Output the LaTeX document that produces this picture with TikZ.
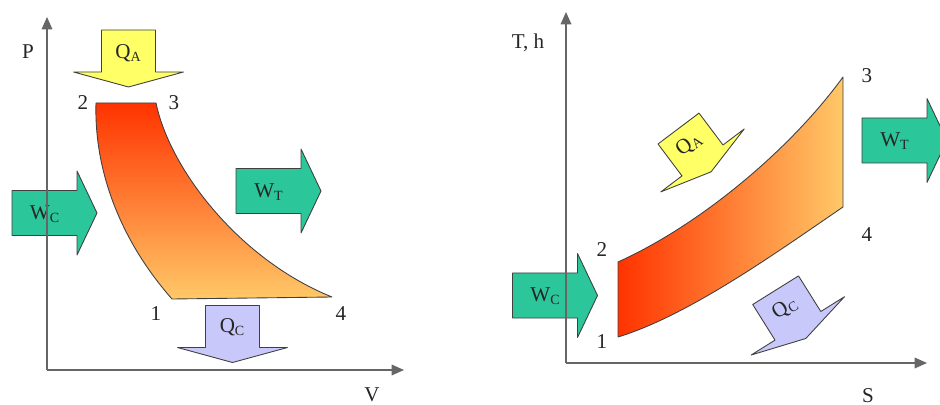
\documentclass[tikz,border=0pt]{standalone}
\usepackage{fontspec}
\setmainfont{Liberation Serif}
\usetikzlibrary{arrows.meta}
\definecolor{wgreen}{HTML}{2CC69B}
\definecolor{qyellow}{HTML}{FFFF66}
\definecolor{qblue}{HTML}{C8C8FA}
\definecolor{cRed}{HTML}{FF3300}
\definecolor{cOrange}{HTML}{FFC868}
\begin{document}
\begin{tikzpicture}[x=0.02cm,y=-0.02cm,
  lbl/.style={font=\fontsize{12}{14}\selectfont, inner sep=0pt, text=black!85},
  axis/.style={draw=black!60, line width=0.9pt, -{Triangle[length=7pt,width=6pt]}},
  outl/.style={draw=black!75, line width=0.5pt, line join=round},
  qarrow/.pic={\path[pic actions] (-27,-21) -- (27,-21) -- (27,21) -- (55,21) -- (0,36) -- (-55,21) -- (-27,21) -- cycle;},
  warrow/.pic={\path[pic actions] (-33,-22.5) -- (32,-22.5) -- (32,-42) -- (52,0) -- (32,42) -- (32,22.5) -- (-33,22.5) -- cycle;}
]
\fill[white] (0,0) rectangle (940,405);
\useasboundingbox (0,0) rectangle (940,405);
\clip (0,0) rectangle (940,405);

% ---------- left: P-V diagram ----------
\shadedraw[top color=cRed, bottom color=cOrange, outl]
  (96,103) -- (156,103) .. controls (170,170) and (240,260) .. (332,297)
  -- (172,299) .. controls (120,240) and (94,170) .. (96,103) -- cycle;

\pic[fill=qyellow, outl] at (128.5,51) {qarrow};
\node[lbl] (qa1) at (128.5,53) {Q\textsubscript{A}};
\pic[fill=qblue, outl] at (232.5,326.5) {qarrow};
\node[lbl] (qc1) at (232.5,327) {Q\textsubscript{C}};
\pic[fill=wgreen, outl] at (45,213) {warrow};
\node[lbl] (wc1) at (45,214) {W\textsubscript{C}};
\pic[fill=wgreen, outl] at (269,191) {warrow};
\node[lbl] (wt1) at (269,192) {W\textsubscript{T}};

\coordinate (o1) at (47,370);
\coordinate (ytop1) at (47,17);
\coordinate (xend1) at (404,370);
\draw[axis] (o1) -- (ytop1);
\draw[axis] (o1) -- (xend1);

\node[lbl] (P) at (28,52) {P};
\node[lbl] (V) at (372,395) {V};
\node[lbl] (n2a) at (83,103) {2};
\node[lbl] (n3a) at (174,103) {3};
\node[lbl] (n1a) at (156,314) {1};
\node[lbl] (n4a) at (341,314) {4};

% ---------- right: T-S diagram ----------
\shadedraw[left color=cRed, right color=cOrange, outl]
  (618,262) .. controls (700,225) and (790,150) .. (843,77)
  -- (843,207) .. controls (780,250) and (690,315) .. (618,337) -- cycle;

% tilted heat arrows (explicit corner points)
\path[fill=qyellow, outl] (658.0,144.0) -- (699.0,113.1) -- (723.0,145.0) -- (744.2,129.0)
  -- (711.1,171.8) -- (660.8,191.9) -- (682.0,175.9) -- cycle;
\node[lbl, rotate=37] (qa2) at (689,144) {Q\textsubscript{A}};
\path[fill=qblue, outl] (752.7,304.5) -- (798.5,275.9) -- (820.8,311.5) -- (844.5,296.7)
  -- (805.8,338.5) -- (751.2,355.0) -- (775.0,340.1) -- cycle;
\node[lbl, rotate=32] (qc2) at (785,308) {Q\textsubscript{C}};

\pic[fill=wgreen, outl] at (545.5,295.5) {warrow};
\node[lbl] (wc2) at (545.5,296.5) {W\textsubscript{C}};
\pic[fill=wgreen, outl] at (895,140.5) {warrow};
\node[lbl] (wt2) at (895,141.5) {W\textsubscript{T}};

\coordinate (o2) at (566,363);
\coordinate (ytop2) at (566,12);
\coordinate (xend2) at (927,363);
\draw[axis] (o2) -- (ytop2);
\draw[axis] (o2) -- (xend2);

\node[lbl] (TH) at (528,43) {T, h};
\node[lbl] (S) at (868,396) {S};
\node[lbl] (n2b) at (602,250) {2};
\node[lbl] (n1b) at (602,342) {1};
\node[lbl] (n3b) at (867,76) {3};
\node[lbl] (n4b) at (867,235) {4};
\end{tikzpicture}
\end{document}
